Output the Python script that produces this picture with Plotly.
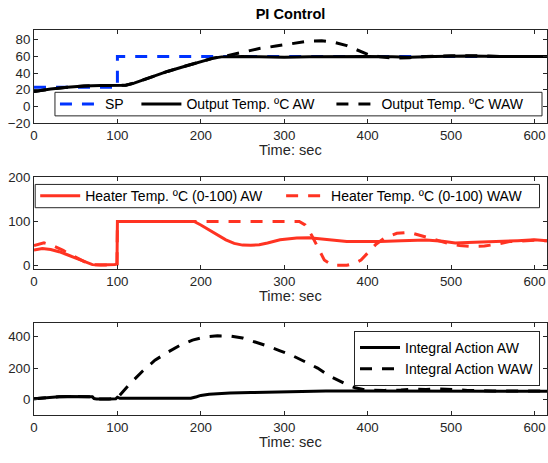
import plotly.graph_objects as go

# ---- Output temperature (top panel) ----
sp_t = [0, 100, 100, 615]
sp_v = [23, 23, 60, 60]

out_aw_t = [0, 10, 20, 40, 60, 80, 100, 110, 120, 140, 160, 180, 200, 215, 225, 235,
            250, 270, 300, 330, 360, 400, 430, 450, 480, 520, 560, 600, 615]
out_aw_v = [18, 19.5, 21, 23, 24.5, 25, 25, 25.5, 28, 35, 42, 48, 54, 58, 59.5, 60,
            60, 59.5, 59, 59.5, 60, 60, 59.5, 59, 60, 60.5, 60, 60, 60]

out_waw_t = [0, 10, 20, 40, 60, 80, 100, 110, 120, 140, 160, 180, 200, 215, 225, 232,
             240, 255, 270, 290, 310, 330, 345, 360, 375, 390, 400, 415, 430, 450, 470,
             500, 520, 560, 600, 615]
out_waw_v = [18, 19.5, 21, 23, 24.5, 25, 25, 25.5, 28, 35, 42, 48, 54, 58, 59.5, 61,
             63, 66.5, 69.5, 72.5, 75.5, 78.5, 79, 77, 73, 67, 62.5, 59.5, 58, 58.5, 60,
             61, 61, 60, 60, 60]

# ---- Heater command (middle panel) ----
heat_aw_t = [0, 5, 10, 20, 30, 40, 50, 60, 65, 70, 80, 90, 97, 99.5, 100, 150, 192,
             200, 210, 220, 230, 240, 250, 260, 270, 280, 295, 315, 330, 345, 360, 375,
             400, 415, 440, 470, 490, 505, 520, 540, 560, 580, 600, 615]
heat_aw_v = [35, 37, 38, 36, 31, 24, 16, 8, 4, 1.5, 0.5, 0.5, 2, 3, 100, 100, 100,
             92, 80, 68, 58, 50, 46, 45.5, 47, 51, 58, 62, 63, 60, 57, 54.5,
             54, 54, 56, 57.5, 55, 51, 52, 53, 55, 56, 58, 56]

heat_waw_t = [0, 5, 12, 20, 28, 35, 40, 50, 60, 65, 70, 80, 90, 97, 99.5, 100, 318,
              325, 333, 340, 348, 358, 375, 385, 392, 400, 410, 420, 435, 450, 465,
              480, 490, 500, 510, 525, 540, 555, 570, 585, 600, 615]
heat_waw_v = [45, 48, 51, 47, 41, 34, 28, 18, 9, 4, 1.5, 0.5, 0.5, 2, 3, 100, 100,
              92, 68, 42, 12, 0, 0, 5, 12, 28, 48, 62, 73, 75, 67, 60,
              54, 48, 45, 43, 44, 48, 54, 56, 57, 56]

# ---- Integral action (bottom panel) ----
int_aw_t = [0, 10, 20, 30, 40, 50, 60, 70, 72, 75, 90, 98, 100, 103, 110, 150, 188,
            195, 200, 210, 220, 235, 260, 300, 350, 400, 450, 500, 550, 600, 615]
int_aw_v = [5, 10, 15, 18, 20, 20, 19, 17, 6, 4, 4, 5, 15, 8, 8, 8, 8,
            18, 26, 34, 38, 41, 44, 50, 55, 55, 55, 54, 53, 52, 52]

int_waw_t = [0, 10, 20, 30, 40, 50, 60, 70, 72, 75, 90, 98, 100, 105, 115, 130, 145,
             160, 175, 190, 205, 220, 235, 250, 265, 280, 295, 310, 325, 340, 355,
             365, 375, 385, 398, 420, 440, 455, 470, 485, 500, 520, 550, 580, 615]
int_waw_v = [5, 10, 15, 18, 20, 20, 19, 17, 6, 4, 4, 5, 10, 40, 100, 180, 250,
             300, 345, 378, 398, 405, 404, 392, 368, 340, 310, 279, 240, 200, 148,
             120, 95, 75, 60, 58, 60, 67, 63, 68, 62, 58, 55, 55, 55]

x_ticks = [0, 100, 200, 300, 400, 500, 600]
x_label = "Time: sec"

BLUE = "#0033ff"
RED = "#ff3322"
BLACK = "#000000"
AXC = "#262626"
FONT = "Liberation Sans, Arial, sans-serif"
LW = 3
DASH = "12px,10px"

W, H = 548, 463
L_MARGIN = 34
PLOT_W = W - L_MARGIN

# vertical pixel extents (top, bottom) of the three panels
panels = [(25, 120.7), (176, 271), (326.7, 422)]


def px_x(px):
    return (px - L_MARGIN) / PLOT_W


def px_y(px):
    return 1 - px / H


def ydom(top_px, bot_px):
    return [px_y(bot_px), px_y(top_px)]


fig = go.Figure()

fig.add_trace(go.Scatter(x=sp_t, y=sp_v, mode="lines", name="SP",
                         line=dict(color=BLUE, width=LW, dash=DASH),
                         xaxis="x", yaxis="y", legend="legend"))
fig.add_trace(go.Scatter(x=out_aw_t, y=out_aw_v, mode="lines", name="Output Temp. ºC AW",
                         line=dict(color=BLACK, width=LW),
                         xaxis="x", yaxis="y", legend="legend2"))
fig.add_trace(go.Scatter(x=out_waw_t, y=out_waw_v, mode="lines", name="Output Temp. ºC WAW",
                         line=dict(color=BLACK, width=LW, dash=DASH),
                         xaxis="x", yaxis="y", legend="legend3"))

fig.add_trace(go.Scatter(x=heat_aw_t, y=heat_aw_v, mode="lines",
                         name="Heater Temp. ºC (0-100) AW",
                         line=dict(color=RED, width=LW),
                         xaxis="x2", yaxis="y2", legend="legend4"))
fig.add_trace(go.Scatter(x=heat_waw_t, y=heat_waw_v, mode="lines",
                         name="Heater Temp. ºC (0-100) WAW",
                         line=dict(color=RED, width=LW, dash=DASH),
                         xaxis="x2", yaxis="y2", legend="legend5"))

fig.add_trace(go.Scatter(x=int_aw_t, y=int_aw_v, mode="lines", name="Integral Action AW",
                         line=dict(color=BLACK, width=LW),
                         xaxis="x3", yaxis="y3", legend="legend6"))
fig.add_trace(go.Scatter(x=int_waw_t, y=int_waw_v, mode="lines", name="Integral Action WAW",
                         line=dict(color=BLACK, width=LW, dash=DASH),
                         xaxis="x3", yaxis="y3", legend="legend6"))

common_axis = dict(showline=True, linecolor=AXC, linewidth=1, mirror="ticks",
                   ticks="inside", ticklen=4, tickcolor=AXC, tickwidth=1,
                   showgrid=False, zeroline=False,
                   tickfont=dict(family=FONT, size=13.3, color=AXC))

xcommon = dict(common_axis, range=[0, 615], tickvals=x_ticks)

legend_font = dict(family=FONT, size=14, color=BLACK)

# single-row legends: one borderless legend per entry, laid over a framed box
row_entry = dict(bgcolor="rgba(0,0,0,0)", borderwidth=0, font=legend_font,
                 itemwidth=40, orientation="h", xanchor="left", yanchor="middle")

legend_boxes = [
    # (left, top, right, bottom) in pixels
    (55, 89, 543, 113.3),
    (35.2, 184, 540.5, 208),
]
row_entries = {
    "legend": (55, 101.5),
    "legend2": (136.6, 101.5),
    "legend3": (332, 101.5),
    "legend4": (35.2, 196.2),
    "legend5": (281.6, 196.2),
}

shapes = [
    dict(type="rect", xref="paper", yref="paper",
         x0=px_x(l), x1=px_x(r), y0=px_y(b), y1=px_y(t),
         fillcolor="white", line=dict(color=AXC, width=1), layer="above")
    for l, t, r, b in legend_boxes
]

legends = {
    name: dict(row_entry, x=px_x(lx), y=px_y(cy))
    for name, (lx, cy) in row_entries.items()
}
legends["legend6"] = dict(bgcolor="white", bordercolor=AXC, borderwidth=1,
                          font=legend_font, itemwidth=40, tracegroupgap=0,
                          orientation="v", x=px_x(541), y=px_y(335),
                          xanchor="right", yanchor="top")

# x-axis labels, centred under each panel
annotations = [
    dict(text=x_label, xref="paper", yref="paper", x=0.5, y=px_y(bot + 28),
         xanchor="center", yanchor="middle", showarrow=False,
         font=dict(family=FONT, size=14.6, color=AXC))
    for _, bot in panels
]

fig.update_layout(
    width=W, height=H,
    margin=dict(l=L_MARGIN, r=0, t=0, b=0),
    paper_bgcolor="white", plot_bgcolor="white",
    showlegend=True,
    title=dict(text="<b>PI Control</b>", xref="paper", x=0.5, xanchor="center",
               y=px_y(14), yanchor="middle",
               font=dict(family=FONT, size=14.6, color=BLACK)),
    annotations=annotations,
    shapes=shapes,
    xaxis=dict(xcommon, anchor="y", domain=[0, 1]),
    yaxis=dict(common_axis, anchor="x", domain=ydom(*panels[0]), range=[-20, 91.5],
               tickvals=[-20, 0, 20, 40, 60, 80]),
    xaxis2=dict(xcommon, anchor="y2", domain=[0, 1]),
    yaxis2=dict(common_axis, anchor="x2", domain=ydom(*panels[1]), range=[-8, 202],
                tickvals=[0, 100, 200]),
    xaxis3=dict(xcommon, anchor="y3", domain=[0, 1]),
    yaxis3=dict(common_axis, anchor="x3", domain=ydom(*panels[2]), range=[-100, 488],
                tickvals=[0, 200, 400]),
    **legends,
)

fig.write_html("out.html")
